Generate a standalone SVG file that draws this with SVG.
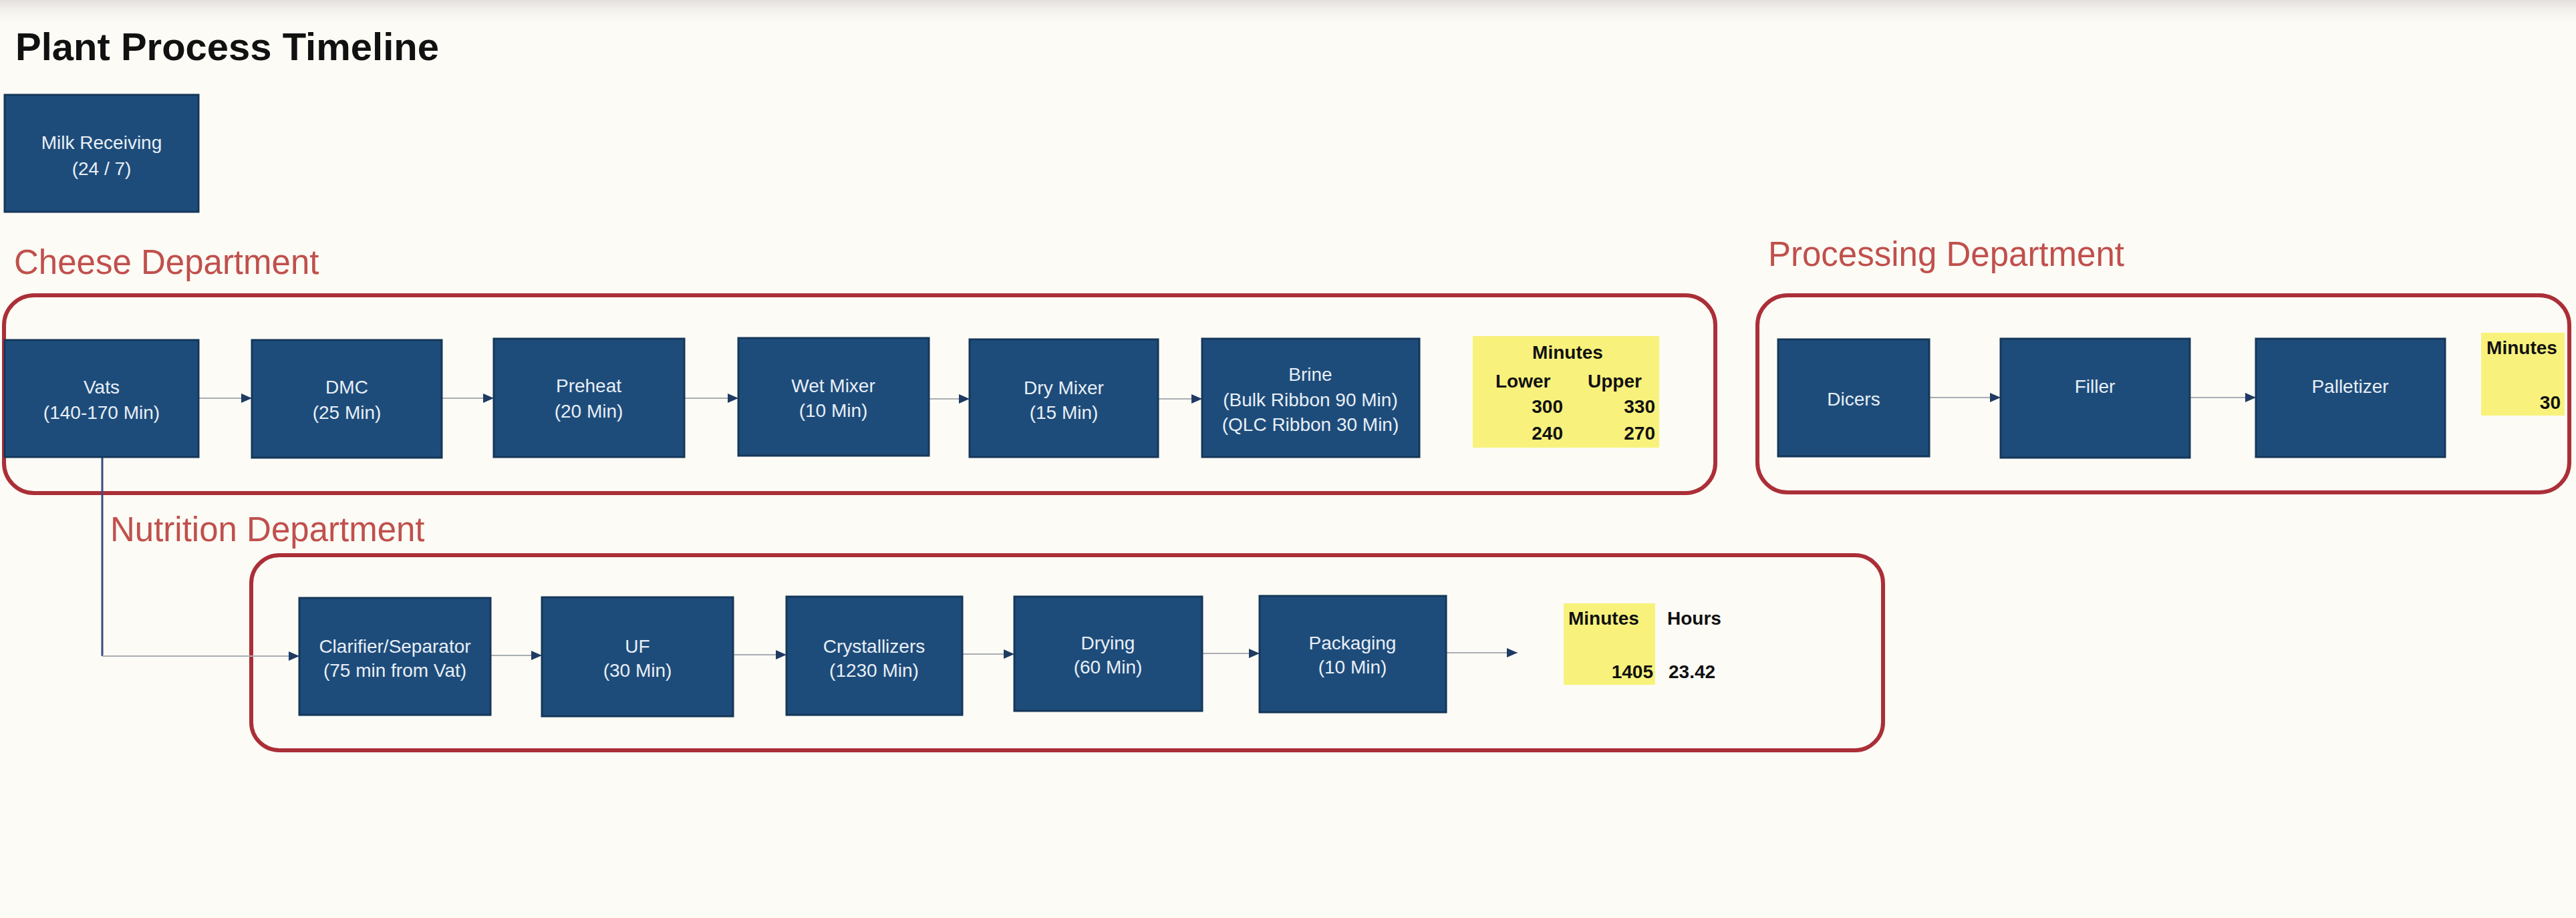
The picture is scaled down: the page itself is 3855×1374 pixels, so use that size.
<svg xmlns="http://www.w3.org/2000/svg" width="3855" height="1374" viewBox="0 0 3855 1374">
<defs>
<style>
.bg{fill:#fcfbf5}
.title{font-family:"Liberation Sans",Arial,sans-serif;font-weight:bold;font-size:58px;fill:#111111}
.dept{font-family:"Liberation Sans",Arial,sans-serif;font-size:51px;fill:#c0504d}
.cont{fill:none;stroke:#ab2f38;stroke-width:6}
.box{fill:#1e4c7a;stroke:#15375a;stroke-width:3}
.lbl{font-family:"Liberation Sans",Arial,sans-serif;font-size:28px;fill:#e8eff7;text-anchor:middle}
.note{fill:#f8f27c}
.num{font-family:"Liberation Sans",Arial,sans-serif;font-weight:bold;font-size:28px;fill:#111111}
.end{text-anchor:end}
.mid{text-anchor:middle}
.conn{fill:none;stroke:#a9adb4;stroke-width:2}
.vert{fill:none;stroke:#3a4c86;stroke-width:3}
</style>
<linearGradient id="topShade" x1="0" y1="0" x2="0" y2="1">
<stop offset="0" stop-color="#dcd8d8" stop-opacity="0.8"/>
<stop offset="1" stop-color="#fcfbf5" stop-opacity="0"/>
</linearGradient>
<marker id="arr" viewBox="0 0 16 14" refX="16" refY="7" markerWidth="16" markerHeight="14" markerUnits="userSpaceOnUse" orient="auto">
<path d="M0,0 L16,7 L0,14 Z" fill="#1f3b63"/>
</marker>
</defs>
<rect class="bg" x="0" y="0" width="3855" height="1374"/>
<rect x="0" y="0" width="3855" height="40" fill="url(#topShade)"/>

<text class="title" x="23" y="90">Plant Process Timeline</text>

<g id="milk-receiving">
<rect class="box" x="7" y="142" width="290" height="175"/>
<text class="lbl" x="152" y="223">Milk Receiving</text>
<text class="lbl" x="152" y="262">(24 / 7)</text>
</g>

<g id="cheese-department">
<text class="dept" x="21" y="410">Cheese Department</text>
<rect class="cont" x="6" y="442" width="2561" height="296" rx="45" ry="45"/>
</g>

<g id="processing-department">
<text class="dept" x="2646" y="398">Processing Department</text>
<rect class="cont" x="2630" y="442" width="1215" height="295" rx="45" ry="45"/>
</g>

<g id="nutrition-department">
<text class="dept" x="165" y="810">Nutrition Department</text>
<rect class="cont" x="376" y="831" width="2442" height="292" rx="42" ry="42"/>
</g>

<g id="connectors">
<line class="conn" x1="297" y1="596" x2="377" y2="596" marker-end="url(#arr)"/>
<line class="conn" x1="661" y1="596" x2="739" y2="596" marker-end="url(#arr)"/>
<line class="conn" x1="1024" y1="596" x2="1105" y2="596" marker-end="url(#arr)"/>
<line class="conn" x1="1390" y1="597" x2="1451" y2="597" marker-end="url(#arr)"/>
<line class="conn" x1="1733" y1="597" x2="1799" y2="597" marker-end="url(#arr)"/>
<line class="conn" x1="2887" y1="595" x2="2994" y2="595" marker-end="url(#arr)"/>
<line class="conn" x1="3277" y1="595" x2="3376" y2="595" marker-end="url(#arr)"/>
<line class="vert" x1="153" y1="684" x2="153" y2="982"/>
<line class="conn" x1="153" y1="982" x2="448" y2="982" marker-end="url(#arr)"/>
<line class="conn" x1="734" y1="981" x2="811" y2="981" marker-end="url(#arr)"/>
<line class="conn" x1="1097" y1="980" x2="1177" y2="980" marker-end="url(#arr)"/>
<line class="conn" x1="1440" y1="979" x2="1518" y2="979" marker-end="url(#arr)"/>
<line class="conn" x1="1799" y1="978" x2="1885" y2="978" marker-end="url(#arr)"/>
<line class="conn" x1="2164" y1="977" x2="2271" y2="977" marker-end="url(#arr)"/>
</g>

<g id="vats">
<rect class="box" x="7" y="509" width="290" height="175"/>
<text class="lbl" x="152" y="589">Vats</text>
<text class="lbl" x="152" y="627">(140-170 Min)</text>
</g>
<g id="dmc">
<rect class="box" x="377" y="509" width="284" height="176"/>
<text class="lbl" x="519" y="589">DMC</text>
<text class="lbl" x="519" y="627">(25 Min)</text>
</g>
<g id="preheat">
<rect class="box" x="739" y="507" width="285" height="177"/>
<text class="lbl" x="881" y="587">Preheat</text>
<text class="lbl" x="881" y="625">(20 Min)</text>
</g>
<g id="wet-mixer">
<rect class="box" x="1105" y="506" width="285" height="176"/>
<text class="lbl" x="1247" y="587">Wet Mixer</text>
<text class="lbl" x="1247" y="624">(10 Min)</text>
</g>
<g id="dry-mixer">
<rect class="box" x="1451" y="508" width="282" height="176"/>
<text class="lbl" x="1592" y="590">Dry Mixer</text>
<text class="lbl" x="1592" y="627">(15 Min)</text>
</g>
<g id="brine">
<rect class="box" x="1799" y="507" width="325" height="177"/>
<text class="lbl" x="1961" y="570">Brine</text>
<text class="lbl" x="1961" y="608">(Bulk Ribbon 90 Min)</text>
<text class="lbl" x="1961" y="645">(QLC Ribbon 30 Min)</text>
</g>
<g id="cheese-minutes">
<rect class="note" x="2204" y="503" width="279" height="167"/>
<text class="num mid" x="2346" y="537">Minutes</text>
<text class="num" x="2238" y="580">Lower</text>
<text class="num" x="2376" y="580">Upper</text>
<text class="num end" x="2339" y="618">300</text>
<text class="num end" x="2477" y="618">330</text>
<text class="num end" x="2339" y="658">240</text>
<text class="num end" x="2477" y="658">270</text>
</g>

<g id="dicers">
<rect class="box" x="2661" y="508" width="226" height="175"/>
<text class="lbl" x="2774" y="607">Dicers</text>
</g>
<g id="filler">
<rect class="box" x="2994" y="507" width="283" height="178"/>
<text class="lbl" x="3135" y="588">Filler</text>
</g>
<g id="palletizer">
<rect class="box" x="3376" y="507" width="283" height="177"/>
<text class="lbl" x="3517" y="588">Palletizer</text>
</g>
<g id="processing-minutes">
<rect class="note" x="3713" y="498" width="125" height="124"/>
<text class="num mid" x="3774" y="530">Minutes</text>
<text class="num end" x="3832" y="612">30</text>
</g>

<g id="clarifier-separator">
<rect class="box" x="448" y="895" width="286" height="175"/>
<text class="lbl" x="591" y="977">Clarifier/Separator</text>
<text class="lbl" x="591" y="1013">(75 min from Vat)</text>
</g>
<g id="uf">
<rect class="box" x="811" y="894" width="286" height="178"/>
<text class="lbl" x="954" y="977">UF</text>
<text class="lbl" x="954" y="1013">(30 Min)</text>
</g>
<g id="crystallizers">
<rect class="box" x="1177" y="893" width="263" height="177"/>
<text class="lbl" x="1308" y="977">Crystallizers</text>
<text class="lbl" x="1308" y="1013">(1230 Min)</text>
</g>
<g id="drying">
<rect class="box" x="1518" y="893" width="281" height="171"/>
<text class="lbl" x="1658" y="972">Drying</text>
<text class="lbl" x="1658" y="1008">(60 Min)</text>
</g>
<g id="packaging">
<rect class="box" x="1885" y="892" width="279" height="174"/>
<text class="lbl" x="2024" y="972">Packaging</text>
<text class="lbl" x="2024" y="1008">(10 Min)</text>
</g>
<g id="nutrition-totals">
<rect class="note" x="2340" y="903" width="137" height="122"/>
<text class="num" x="2347" y="935">Minutes</text>
<text class="num" x="2495" y="935">Hours</text>
<text class="num end" x="2474" y="1015">1405</text>
<text class="num" x="2497" y="1015">23.42</text>
</g>
</svg>
